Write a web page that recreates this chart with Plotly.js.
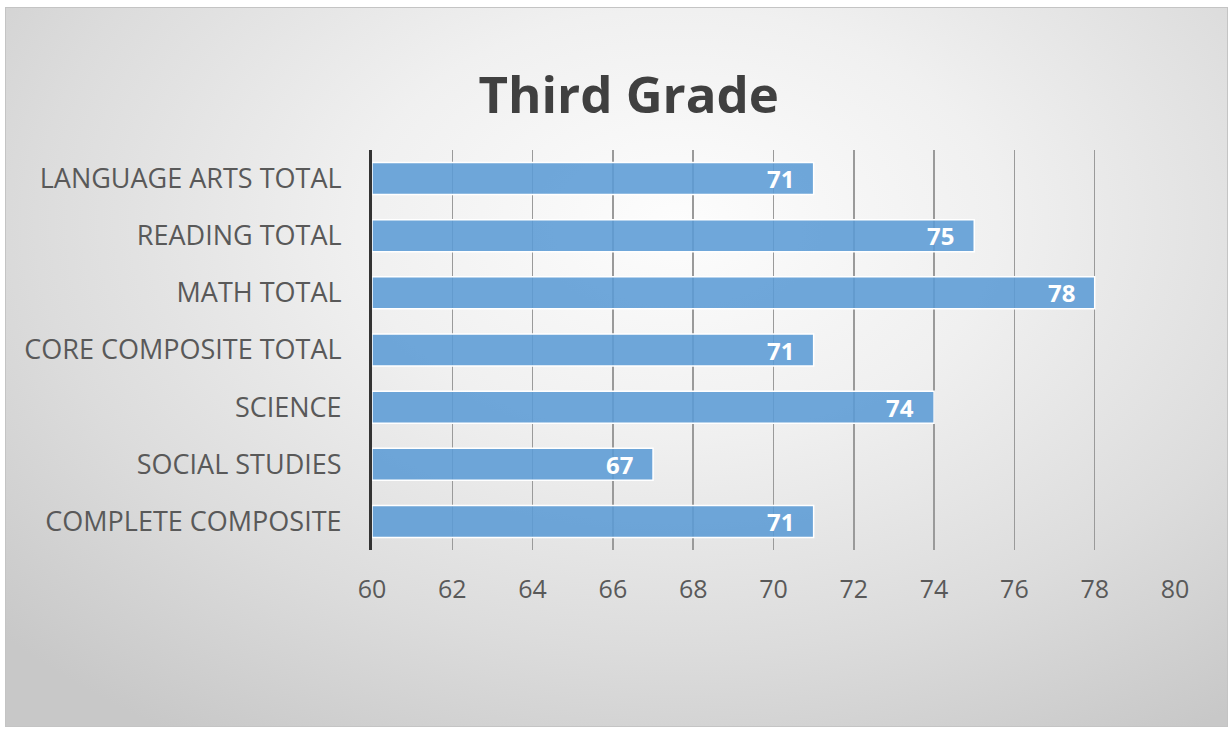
<!DOCTYPE html>
<html>
<head>
<meta charset="utf-8">
<script src="https://cdn.plot.ly/plotly-3.0.1.min.js"></script>
<style>
  html, body { margin: 0; padding: 0; background: #ffffff; }
  #chart-frame {
    position: absolute;
    left: 5px; top: 7px;
    width: 1223px; height: 720px;
    box-sizing: border-box;
    border: 1px solid #c4c4c4;
    background: radial-gradient(ellipse 75% 85% at 55% 30%, #fdfdfd 0%, #f0f0f0 35%, #dcdcdc 70%, #c8c8c8 100%);
  }
  #chart { width: 100%; height: 100%; }
</style>
</head>
<body>
<div id="chart-frame"><div id="chart"></div></div>
<script>
// Subjects, top to bottom as shown
const subjects = [
  'LANGUAGE ARTS TOTAL',
  'READING TOTAL',
  'MATH TOTAL',
  'CORE COMPOSITE TOTAL',
  'SCIENCE',
  'SOCIAL STUDIES',
  'COMPLETE COMPOSITE',
];
const scores = [71, 75, 78, 71, 74, 67, 71];
const xTicks = [60, 62, 64, 66, 68, 70, 72, 74, 76, 78, 80];
const AXIS_MIN = 60;

const FONT = 'Open Sans, Noto Sans, sans-serif';

// bars start at the axis minimum, so x holds the length from it
const trace = {
  type: 'bar',
  orientation: 'h',
  x: scores.map(v => v - AXIS_MIN),
  y: subjects,
  base: AXIS_MIN,
  width: 0.56,
  marker: {
    color: 'rgba(91, 155, 213, 0.88)',
    line: { color: '#ffffff', width: 1.5 },
  },
  hoverinfo: 'skip',
};

// Value labels inside the bar end (annotations so they keep full size)
const annotations = scores.map((v, i) => ({
  x: v,
  y: subjects[i],
  xref: 'x', yref: 'y',
  text: '<b>' + v + '</b>',
  showarrow: false,
  xanchor: 'right',
  yanchor: 'middle',
  xshift: -18,
  font: { color: '#ffffff', size: 24, family: FONT },
}));

const layout = {
  width: 1221,
  height: 718,
  paper_bgcolor: 'rgba(0,0,0,0)',
  plot_bgcolor: 'rgba(0,0,0,0)',
  margin: { t: 142, r: 52, b: 176, l: 366 },
  font: { family: FONT, color: '#595959' },
  title: {
    text: '<b>Third Grade</b>',
    font: { size: 51, color: '#404040', family: FONT },
    x: 0.51, xanchor: 'center',
    y: 0.878, yanchor: 'middle',
  },
  showlegend: false,
  annotations,
  xaxis: {
    range: [60, 80],
    tickvals: xTicks,
    ticktext: xTicks.map(String),
    showgrid: true,
    gridcolor: '#9a9a9a',
    gridwidth: 1.5,
    zeroline: false,
    showline: false,
    ticks: '',
    ticklabelstandoff: 22,
    tickfont: { size: 25, color: '#595959', family: FONT },
    fixedrange: true,
  },
  yaxis: {
    type: 'category',
    categoryorder: 'array',
    categoryarray: subjects,
    autorange: 'reversed',
    showgrid: false,
    zeroline: false,
    showline: true,
    linecolor: '#333333',
    linewidth: 3,
    ticks: '',
    ticklabelstandoff: 22,
    tickfont: { size: 27, color: '#595959', family: FONT },
    fixedrange: true,
  },
};

Plotly.newPlot('chart', [trace], layout, { displayModeBar: false, staticPlot: true });
</script>
</body>
</html>
